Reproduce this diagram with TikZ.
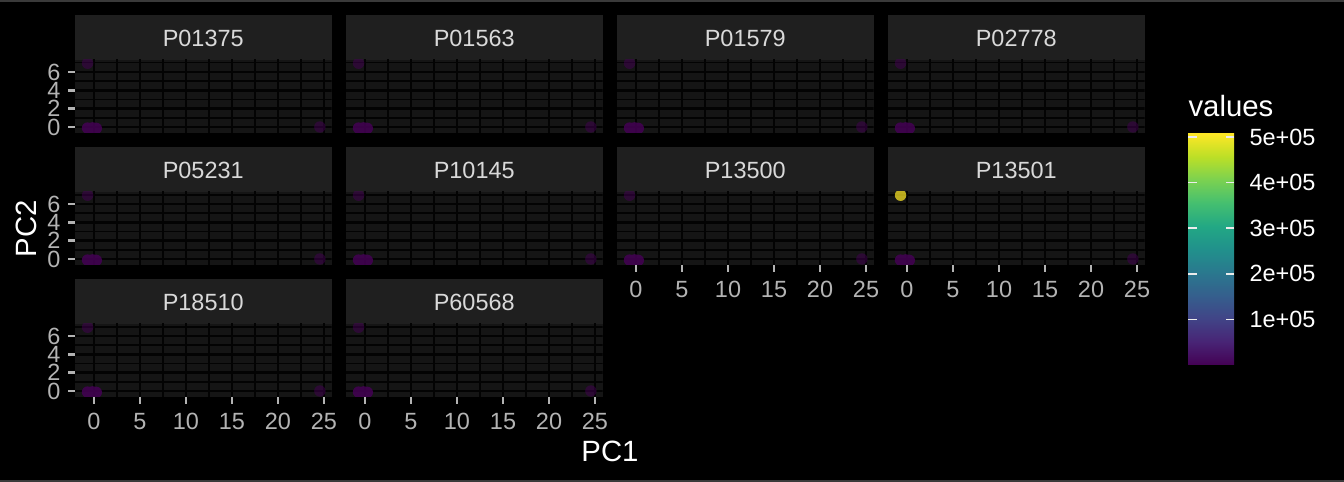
\documentclass[tikz,border=0pt]{standalone}
\usepackage{fontspec}
\setmainfont{Liberation Sans}
\usepackage{xcolor}
\usetikzlibrary{positioning}

\definecolor{stripbg}{HTML}{1F1F1F}
\definecolor{panelbg}{HTML}{151515}
\definecolor{gridcol}{HTML}{030303}
\definecolor{stripfg}{HTML}{D9D9D9}
\definecolor{tickfg}{HTML}{B3B3B3}
\definecolor{framecol}{HTML}{3A3A3A}
\definecolor{vir0}{HTML}{440154}
\definecolor{vir1}{HTML}{482475}
\definecolor{vir2}{HTML}{414487}
\definecolor{vir3}{HTML}{355F8D}
\definecolor{vir4}{HTML}{2A788E}
\definecolor{vir5}{HTML}{21918C}
\definecolor{vir6}{HTML}{22A884}
\definecolor{vir7}{HTML}{44BF70}
\definecolor{vir8}{HTML}{7AD151}
\definecolor{vir9}{HTML}{BBDF27}
\definecolor{vir10}{HTML}{FDE725}

\pgfdeclareverticalshading{viridis}{100bp}{color(0bp)=(vir0); color(25bp)=(vir0);
  color(30bp)=(vir1); color(35bp)=(vir2); color(40bp)=(vir3); color(45bp)=(vir4);
  color(50bp)=(vir5); color(55bp)=(vir6); color(60bp)=(vir7); color(65bp)=(vir8);
  color(70bp)=(vir9); color(75bp)=(vir10); color(100bp)=(vir10)}

\tikzset{
  striplabel/.style={inner sep=0pt, text=stripfg, font=\fontsize{8.8}{10}\selectfont},
  ticklabel/.style={inner sep=0pt, text=tickfg, font=\fontsize{8.8}{10}\selectfont},
  leglabel/.style={inner sep=0pt, text=white, font=\fontsize{8.8}{10}\selectfont},
  axtitle/.style={inner sep=0pt, text=white, font=\fontsize{11}{13}\selectfont},
  majorgrid/.style={gridcol, line width=1.07pt},
  minorgrid/.style={gridcol, line width=0.53pt},
  tickmark/.style={tickfg, line width=1.07pt},
  legtick/.style={white!85!gray, line width=0.6pt},
  ptlow/.style={fill=vir0, fill opacity=0.5},
  pthigh/.style={fill=vir10, fill opacity=0.72},
  ptblob/.style={fill=vir0, fill opacity=0.85}
}

\begin{document}
\begin{tikzpicture}[x=0.375pt, y=-0.375pt]
\useasboundingbox (0,0) rectangle (1344,482);
\fill[black] (0,0) rectangle (1344,482);
\draw[framecol, line width=0.6pt] (0,0.8) -- (1344,0.8);
\draw[framecol, line width=0.6pt] (0,481.2) -- (1344,481.2);

% facets
\foreach \lab/\col/\row/\topc in {P01375/0/0/ptlow, P01563/1/0/ptlow, P01579/2/0/ptlow, P02778/3/0/ptlow,
    P05231/0/1/ptlow, P10145/1/1/ptlow, P13500/2/1/ptlow, P13501/3/1/pthigh,
    P18510/0/2/ptlow, P60568/1/2/ptlow}{
  \pgfmathsetmacro\xa{75+271*\col}
  \pgfmathsetmacro\ya{15+132*\row}
  \fill[stripbg] (\xa,\ya) rectangle ++(256.5,45);
  \node[striplabel] (\lab) at (\xa+128.25,\ya+23) {\lab};
  \fill[panelbg] (\xa,\ya+45) rectangle ++(256.5,73);
  \begin{scope}[shift={(\xa+19,\ya+112)}, x=3.45pt, y=3.439pt]
    \clip (-2.065,-0.654) rectangle (25.815,7.307);
    \foreach \gx in {2.5,7.5,...,22.5} \draw[minorgrid] (\gx,-1) -- (\gx,8);
    \foreach \gy in {1,3,5,7} \draw[minorgrid] (-3,\gy) -- (27,\gy);
    \foreach \gx in {0,5,...,25} \draw[majorgrid] (\gx,-1) -- (\gx,8);
    \foreach \gy in {0,2,4,6} \draw[majorgrid] (-3,\gy) -- (27,\gy);
    \fill[\topc] (-0.7,6.95) circle[radius=2.14pt];
    \fill[ptlow] (24.55,0) circle[radius=2.14pt];
    \fill[ptblob] (-0.7,-0.12) circle[radius=2.14pt] (-0.45,-0.28) circle[radius=2.14pt]
      (-0.15,-0.1) circle[radius=2.14pt] (0.05,-0.28) circle[radius=2.14pt]
      (0.25,-0.15) circle[radius=2.14pt];
  \end{scope}
}

% x axes
\foreach \col/\row in {0/2, 1/2, 2/1, 3/1}{
  \pgfmathsetmacro\xz{94+271*\col}
  \pgfmathsetmacro\yb{133+132*\row}
  \foreach \v in {0,5,...,25}{
    \draw[tickmark] (\xz+9.2*\v,\yb) -- ++(0,7.3);
    \node[ticklabel, anchor=north] (xt\col-\v) at (\xz+9.2*\v,\yb+15.5) {\v};
  }
}

% y axes
\foreach \row in {0,1,2}{
  \pgfmathsetmacro\yz{127+132*\row}
  \foreach \v in {0,2,4,6}{
    \draw[tickmark] (75,\yz-9.17*\v) -- ++(-7.3,0);
    \node[ticklabel, anchor=east] (yt\row-\v) at (61,\yz-9.17*\v) {\v};
  }
}

\node[axtitle] (pc1) at (610,451) {PC1};
\node[axtitle, rotate=90] (pc2) at (26,229) {PC2};

% colour bar
\node[axtitle, anchor=south west] (values) at (1188,117) {values};
\shade[shading=viridis] (1188,134) rectangle (1234,365);
\foreach \k in {1,...,5}{
  \pgfmathsetmacro\yk{365-45.6*\k}
  \draw[legtick] (1188,\yk) -- ++(8.5,0) (1234,\yk) -- ++(-8.5,0);
  \node[leglabel, anchor=west] (leg\k) at (1249,\yk) {\k e+05};
}
\end{tikzpicture}
\end{document}
